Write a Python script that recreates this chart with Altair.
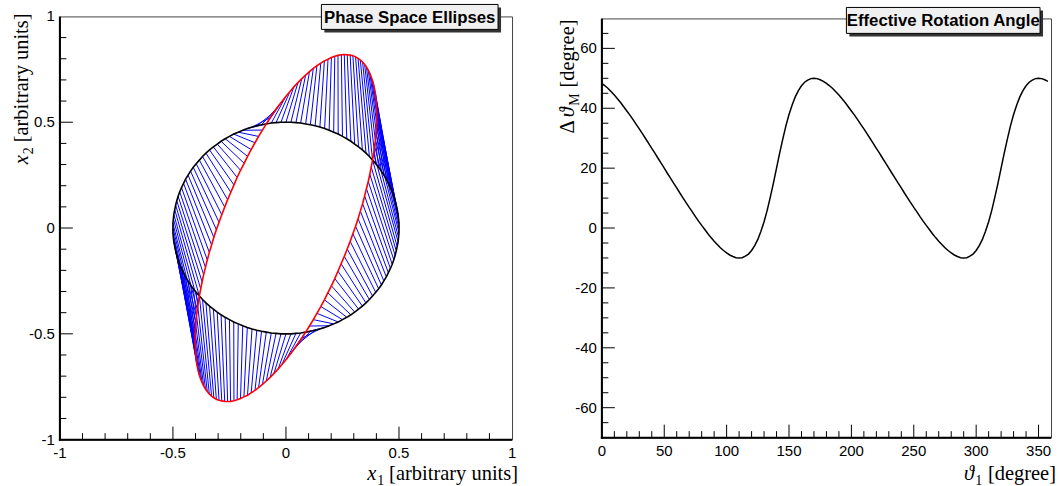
import pandas as pd
import altair as alt

# ---------------- data ----------------
# circle sample angle grid (degrees), 144 samples
theta1_deg = [2.5 * k for k in range(144)]

# black circle (x1, x2) at each sample
circle_x1 = [0.5, 0.5, 0.498, 0.496, 0.492, 0.488, 0.483, 0.477, 0.47, 0.462, 0.453, 0.444,
             0.433, 0.422, 0.41, 0.397, 0.383, 0.369, 0.354, 0.338, 0.321, 0.304, 0.287, 0.269,
             0.25, 0.231, 0.211, 0.191, 0.171, 0.15, 0.129, 0.108, 0.087, 0.065, 0.044, 0.022,
             0.0, -0.022, -0.044, -0.065, -0.087, -0.108, -0.129, -0.15, -0.171, -0.191, -0.211, -0.231,
             -0.25, -0.269, -0.287, -0.304, -0.321, -0.338, -0.354, -0.369, -0.383, -0.397, -0.41, -0.422,
             -0.433, -0.444, -0.453, -0.462, -0.47, -0.477, -0.483, -0.488, -0.492, -0.496, -0.498, -0.5,
             -0.5, -0.5, -0.498, -0.496, -0.492, -0.488, -0.483, -0.477, -0.47, -0.462, -0.453, -0.444,
             -0.433, -0.422, -0.41, -0.397, -0.383, -0.369, -0.354, -0.338, -0.321, -0.304, -0.287, -0.269,
             -0.25, -0.231, -0.211, -0.191, -0.171, -0.15, -0.129, -0.108, -0.087, -0.065, -0.044, -0.022,
             0.0, 0.022, 0.044, 0.065, 0.087, 0.108, 0.129, 0.15, 0.171, 0.191, 0.211, 0.231,
             0.25, 0.269, 0.287, 0.304, 0.321, 0.338, 0.354, 0.369, 0.383, 0.397, 0.41, 0.422,
             0.433, 0.444, 0.453, 0.462, 0.47, 0.477, 0.483, 0.488, 0.492, 0.496, 0.498, 0.5]
circle_x2 = [0.0, 0.022, 0.044, 0.065, 0.087, 0.108, 0.129, 0.15, 0.171, 0.191, 0.211, 0.231,
             0.25, 0.269, 0.287, 0.304, 0.321, 0.338, 0.354, 0.369, 0.383, 0.397, 0.41, 0.422,
             0.433, 0.444, 0.453, 0.462, 0.47, 0.477, 0.483, 0.488, 0.492, 0.496, 0.498, 0.5,
             0.5, 0.5, 0.498, 0.496, 0.492, 0.488, 0.483, 0.477, 0.47, 0.462, 0.453, 0.444,
             0.433, 0.422, 0.41, 0.397, 0.383, 0.369, 0.354, 0.338, 0.321, 0.304, 0.287, 0.269,
             0.25, 0.231, 0.211, 0.191, 0.171, 0.15, 0.129, 0.108, 0.087, 0.065, 0.044, 0.022,
             0.0, -0.022, -0.044, -0.065, -0.087, -0.108, -0.129, -0.15, -0.171, -0.191, -0.211, -0.231,
             -0.25, -0.269, -0.287, -0.304, -0.321, -0.338, -0.354, -0.369, -0.383, -0.397, -0.41, -0.422,
             -0.433, -0.444, -0.453, -0.462, -0.47, -0.477, -0.483, -0.488, -0.492, -0.496, -0.498, -0.5,
             -0.5, -0.5, -0.498, -0.496, -0.492, -0.488, -0.483, -0.477, -0.47, -0.462, -0.453, -0.444,
             -0.433, -0.422, -0.41, -0.397, -0.383, -0.369, -0.354, -0.338, -0.321, -0.304, -0.287, -0.269,
             -0.25, -0.231, -0.211, -0.191, -0.171, -0.15, -0.129, -0.108, -0.087, -0.065, -0.044, -0.022]

# red transformed ellipse (x1, x2) at each sample
red_x1 = [0.398, 0.4, 0.401, 0.402, 0.401, 0.4, 0.398, 0.396, 0.392, 0.388, 0.383, 0.377,
          0.371, 0.364, 0.356, 0.348, 0.339, 0.329, 0.319, 0.308, 0.296, 0.284, 0.271, 0.258,
          0.245, 0.23, 0.216, 0.201, 0.186, 0.17, 0.154, 0.137, 0.121, 0.104, 0.087, 0.07,
          0.053, 0.035, 0.018, 0.0, -0.017, -0.035, -0.052, -0.07, -0.087, -0.104, -0.121, -0.137,
          -0.154, -0.17, -0.185, -0.201, -0.216, -0.23, -0.244, -0.258, -0.271, -0.284, -0.296, -0.308,
          -0.319, -0.329, -0.339, -0.348, -0.356, -0.364, -0.371, -0.377, -0.383, -0.388, -0.392, -0.396,
          -0.398, -0.4, -0.401, -0.402, -0.401, -0.4, -0.398, -0.396, -0.392, -0.388, -0.383, -0.377,
          -0.371, -0.364, -0.356, -0.348, -0.339, -0.329, -0.319, -0.308, -0.296, -0.284, -0.271, -0.258,
          -0.245, -0.23, -0.216, -0.201, -0.186, -0.17, -0.154, -0.137, -0.121, -0.104, -0.087, -0.07,
          -0.053, -0.035, -0.018, 0.0, 0.017, 0.035, 0.052, 0.07, 0.087, 0.104, 0.121, 0.137,
          0.154, 0.17, 0.185, 0.201, 0.216, 0.23, 0.244, 0.258, 0.271, 0.284, 0.296, 0.308,
          0.319, 0.329, 0.339, 0.348, 0.356, 0.364, 0.371, 0.377, 0.383, 0.388, 0.392, 0.396]
red_x2 = [0.447, 0.477, 0.506, 0.533, 0.56, 0.586, 0.61, 0.633, 0.655, 0.676, 0.696, 0.714,
          0.731, 0.746, 0.761, 0.773, 0.784, 0.794, 0.802, 0.809, 0.814, 0.817, 0.819, 0.82,
          0.819, 0.816, 0.812, 0.806, 0.798, 0.79, 0.779, 0.767, 0.754, 0.739, 0.723, 0.706,
          0.687, 0.667, 0.645, 0.623, 0.599, 0.574, 0.548, 0.521, 0.492, 0.463, 0.433, 0.403,
          0.371, 0.339, 0.306, 0.273, 0.239, 0.204, 0.169, 0.134, 0.099, 0.063, 0.027, -0.008,
          -0.044, -0.08, -0.115, -0.151, -0.186, -0.22, -0.254, -0.288, -0.321, -0.354, -0.386, -0.417,
          -0.447, -0.477, -0.506, -0.533, -0.56, -0.586, -0.61, -0.633, -0.655, -0.676, -0.696, -0.714,
          -0.731, -0.746, -0.761, -0.773, -0.784, -0.794, -0.802, -0.809, -0.814, -0.817, -0.819, -0.82,
          -0.819, -0.816, -0.812, -0.806, -0.798, -0.79, -0.779, -0.767, -0.754, -0.739, -0.723, -0.706,
          -0.687, -0.667, -0.645, -0.623, -0.599, -0.574, -0.548, -0.521, -0.492, -0.463, -0.433, -0.403,
          -0.371, -0.339, -0.306, -0.273, -0.239, -0.204, -0.169, -0.134, -0.099, -0.063, -0.027, 0.008,
          0.044, 0.08, 0.115, 0.151, 0.186, 0.22, 0.254, 0.288, 0.321, 0.354, 0.386, 0.417]

# effective rotation angle (degrees) at each sample angle
delta_theta = [48.3, 47.5, 46.6, 45.5, 44.4, 43.2, 41.9, 40.5, 39.1, 37.7, 36.2, 34.6,
               33.1, 31.5, 29.9, 28.3, 26.6, 25.0, 23.3, 21.7, 20.0, 18.3, 16.7, 15.0,
               13.4, 11.7, 10.1, 8.5, 6.9, 5.4, 3.8, 2.3, 0.9, -0.5, -1.9, -3.2,
               -4.4, -5.5, -6.6, -7.5, -8.3, -9.0, -9.5, -9.9, -10.0, -9.9, -9.4, -8.7,
               -7.5, -5.9, -3.8, -1.1, 2.1, 5.9, 10.3, 15.0, 20.0, 25.0, 29.7, 34.1,
               37.9, 41.1, 43.8, 45.9, 47.5, 48.7, 49.4, 49.9, 50.0, 49.9, 49.5, 49.0,
               48.3, 47.5, 46.6, 45.5, 44.4, 43.2, 41.9, 40.5, 39.1, 37.7, 36.2, 34.6,
               33.1, 31.5, 29.9, 28.3, 26.6, 25.0, 23.3, 21.7, 20.0, 18.3, 16.7, 15.0,
               13.4, 11.7, 10.1, 8.5, 6.9, 5.4, 3.8, 2.3, 0.9, -0.5, -1.9, -3.2,
               -4.4, -5.5, -6.6, -7.5, -8.3, -9.0, -9.5, -9.9, -10.0, -9.9, -9.4, -8.7,
               -7.5, -5.9, -3.8, -1.1, 2.1, 5.9, 10.3, 15.0, 20.0, 25.0, 29.7, 34.1,
               37.9, 41.1, 43.8, 45.9, 47.5, 48.7, 49.4, 49.9, 50.0, 49.9, 49.5, 49.0]

panel_titles = ["Phase Space Ellipses", "Effective Rotation Angle"]
left_tick_values = [-1, -0.5, 0, 0.5, 1]
left_tick_labels = ["-1", "-0.5", "0", "0.5", "1"]
right_x_values = [0, 50, 100, 150, 200, 250, 300, 350]
right_x_labels = ["0", "50", "100", "150", "200", "250", "300", "350"]
right_y_values = [-60, -40, -20, 0, 20, 40, 60]
right_y_labels = ["-60", "-40", "-20", "0", "20", "40", "60"]
left_minor = [-0.9, -0.8, -0.7, -0.6, -0.4, -0.3, -0.2, -0.1, 0.1, 0.2, 0.3, 0.4, 0.6, 0.7, 0.8, 0.9]
right_x_minor = [v for v in range(10, 360, 10) if v % 50 != 0]
right_y_minor = [v for v in range(-65, 70, 5) if v % 20 != 0]

# ---------------- styling ----------------
W1, H1 = 453, 424
W2, H2 = 450, 420
SERIF = "Liberation Serif, DejaVu Serif, serif"
SANS = "Liberation Sans, Arial, sans-serif"
TS = 20.5    # axis title font size
SS = 14      # subscript font size

xs1 = alt.Scale(domain=[-1, 1], nice=False, zero=False)
ys1 = alt.Scale(domain=[-1, 1], nice=False, zero=False)
xs2 = alt.Scale(domain=[0, 360], nice=False, zero=False)
ys2 = alt.Scale(domain=[-70, 70], nice=False, zero=False)

one = pd.DataFrame({"k": [0]})


def frame_and_ticks(xscale, yscale, xmaj, xmin, ymaj, ymin, W, H):
    layers = []
    for vals, L in ((xmaj, 13), (xmin, 6.5)):
        layers.append(alt.Chart(pd.DataFrame({"v": vals})).mark_rule(color="black", strokeWidth=1).encode(
            x=alt.X("v:Q", scale=xscale, axis=None), y=alt.value(H), y2=alt.value(H - L)))
    for vals, L in ((ymaj, 13), (ymin, 6.5)):
        layers.append(alt.Chart(pd.DataFrame({"v": vals})).mark_rule(color="black", strokeWidth=1).encode(
            y=alt.Y("v:Q", scale=yscale, axis=None), x=alt.value(0), x2=alt.value(L)))
    # thicker left and bottom frame edges
    layers.append(alt.Chart(one).mark_rule(color="black", strokeWidth=2).encode(
        x=alt.value(0), y=alt.value(0), y2=alt.value(H + 1)))
    layers.append(alt.Chart(one).mark_rule(color="black", strokeWidth=2).encode(
        x=alt.value(-1), x2=alt.value(W), y=alt.value(H)))
    return layers


def labels(xscale, yscale, xv, xl, yv, yl, H):
    lx = alt.Chart(pd.DataFrame({"v": xv, "t": xl})).mark_text(
        font=SANS, fontSize=15, align="center", baseline="top", color="black").encode(
        x=alt.X("v:Q", scale=xscale, axis=None), y=alt.value(H + 6), text="t:N")
    ly = alt.Chart(pd.DataFrame({"v": yv, "t": yl})).mark_text(
        font=SANS, fontSize=15, align="right", baseline="middle", color="black").encode(
        y=alt.Y("v:Q", scale=yscale, axis=None), x=alt.value(-5), text="t:N")
    return [lx, ly]


def txt(s_, x, y, size, style="normal", angle=0):
    return alt.Chart(one).mark_text(text=s_, font=SERIF, fontSize=size, fontStyle=style,
                                    align="right", baseline="alphabetic",
                                    angle=angle, color="black").encode(x=alt.value(x), y=alt.value(y))


def titlebox(label, x0, x1, y0, y1):
    sh = alt.Chart(one).mark_rect(fill="#333333").encode(
        x=alt.value(x0 + 3), x2=alt.value(x1 + 3), y=alt.value(y0 + 3), y2=alt.value(y1 + 3))
    bx = alt.Chart(one).mark_rect(fill="#f0f0f0", stroke="black", strokeWidth=1).encode(
        x=alt.value(x0), x2=alt.value(x1), y=alt.value(y0), y2=alt.value(y1))
    t = alt.Chart(one).mark_text(text=label, font=SANS, fontSize=16.8, fontWeight="bold",
                                 align="center", baseline="middle", color="black").encode(
        x=alt.value((x0 + x1) / 2), y=alt.value((y0 + y1) / 2 + 1))
    return [sh, bx, t]


# ---------------- left panel ----------------
seg = pd.DataFrame({"c1": circle_x1, "c2": circle_x2, "m1": red_x1, "m2": red_x2})
n = len(circle_x1)
idx = list(range(n)) + [0]
circ = pd.DataFrame({"x": [circle_x1[i] for i in idx], "y": [circle_x2[i] for i in idx], "o": list(range(n + 1))})
ell = pd.DataFrame({"x": [red_x1[i] for i in idx], "y": [red_x2[i] for i in idx], "o": list(range(n + 1))})

# invisible rectangle fixing the page extent (1060 x 486)
bounds = alt.Chart(one).mark_rect(opacity=0).encode(
    x=alt.value(-59), x2=alt.value(1001), y=alt.value(-15), y2=alt.value(471))

blue = alt.Chart(seg).mark_rule(color="#0000ff", strokeWidth=1).encode(
    x=alt.X("c1:Q", scale=xs1, axis=None), y=alt.Y("c2:Q", scale=ys1, axis=None),
    x2="m1:Q", y2="m2:Q")
black = alt.Chart(circ).mark_line(color="black", strokeWidth=1.6).encode(
    x=alt.X("x:Q", scale=xs1, axis=None), y=alt.Y("y:Q", scale=ys1, axis=None), order="o:Q")
red = alt.Chart(ell).mark_line(color="#ff0000", strokeWidth=1.6).encode(
    x=alt.X("x:Q", scale=xs1, axis=None), y=alt.Y("y:Q", scale=ys1, axis=None), order="o:Q")

left_layers = [bounds, blue, black, red]
left_layers += frame_and_ticks(xs1, ys1, [-0.5, 0, 0.5], left_minor, [-0.5, 0, 0.5], left_minor, W1, H1)
left_layers += labels(xs1, ys1, left_tick_values, left_tick_labels, left_tick_values, left_tick_labels, H1)
left_layers += titlebox(panel_titles[0], 262, 439, -12, 13)
# x title:  x_1 [arbitrary units]
left_layers += [txt("[arbitrary units]", W1 + 6, H1 + 40, TS),
                txt("1", W1 + 6 - 134, H1 + 45, SS),
                txt("x", W1 + 6 - 142, H1 + 40, TS, style="italic")]
# y title:  x_2 [arbitrary units]
left_layers += [txt("[arbitrary units]", -32, -3, TS, angle=270),
                txt("2", -27, -3 + 134, SS, angle=270),
                txt("x", -32, -3 + 142, TS, style="italic", angle=270)]
left = alt.layer(*left_layers).properties(width=W1, height=H1)

# ---------------- right panel ----------------
rot = pd.DataFrame({"t": theta1_deg, "d": delta_theta})
curve = alt.Chart(rot).mark_line(color="black", strokeWidth=1.5).encode(
    x=alt.X("t:Q", scale=xs2, axis=None), y=alt.Y("d:Q", scale=ys2, axis=None))
right_layers = [curve]
right_layers += frame_and_ticks(xs2, ys2, right_x_values[1:], right_x_minor, right_y_values, right_y_minor, W2, H2)
right_layers += labels(xs2, ys2, right_x_values, right_x_labels, right_y_values, right_y_labels, H2)
right_layers += titlebox(panel_titles[1], 245, 439, -11, 15)
# x title:  theta_1 [degree]
right_layers += [txt("[degree]", W2 + 5, H2 + 42, TS),
                 txt("1", W2 + 5 - 74, H2 + 47, SS),
                 txt("\u03d1", W2 + 5 - 82, H2 + 42, TS, style="italic")]
# y title:  Delta theta_M [degree]
right_layers += [txt("[degree]", -28, 1, TS, angle=270),
                 txt("M", -23, 1 + 74, SS, angle=270),
                 txt("\u03d1", -28, 1 + 88, TS, style="italic", angle=270),
                 txt("\u0394", -28, 1 + 101, TS, angle=270)]
right = alt.layer(*right_layers).properties(width=W2, height=H2)

chart = alt.hconcat(left, right, spacing=90, bounds="flush", center=True).properties(
    padding=0, background="white").configure_view(stroke="#444444", strokeWidth=1)

chart.save("out.html", embed_options={"renderer": "svg", "actions": False})
